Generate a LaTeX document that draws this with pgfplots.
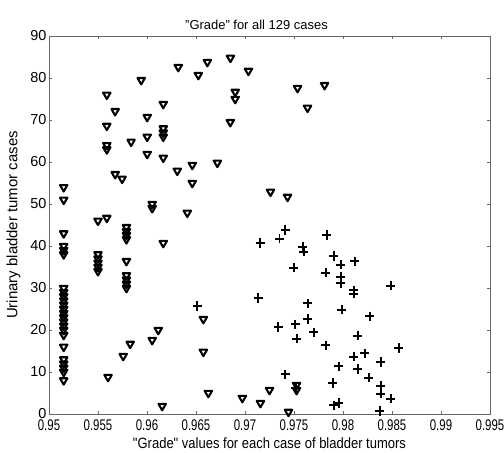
\documentclass[border=0pt]{standalone}
\usepackage{pgfplots}
\usepackage{graphicx}
\pgfplotsset{compat=1.18}
\usepackage{fontspec}
\setmainfont{Liberation Sans}
\newfontfamily\xlabfont{Liberation Sans}[FakeStretch=0.87]
\newcommand\sx[1]{\scalebox{0.74}[1]{#1}}
\begin{document}
\begin{tikzpicture}
\useasboundingbox (-49bp,-39bp) rectangle (455bp,414bp);
\begin{axis}[
  at={(0,0)}, anchor=south west,
  scale only axis, width=441bp, height=378bp,
  xmin=0.95, xmax=0.995, ymin=0, ymax=90,
  xtick={0.95,0.955,0.96,0.965,0.97,0.975,0.98,0.985,0.99,0.995},
  xticklabels={\sx{0.95},\sx{0.955},\sx{0.96},\sx{0.965},\sx{0.97},\sx{0.975},\sx{0.98},\sx{0.985},\sx{0.99},\sx{0.995}},
  ytick={0,10,...,90},
  /pgf/number format/assume math mode=true,
  tick align=inside,
  major tick length=3bp,
  tick style={black!60, line width=0.5pt},
  axis line style={black!60, line width=0.6pt},
  xticklabel style={font=\fontsize{15.5}{17}\selectfont, yshift=-2bp},
  yticklabel style={font=\fontsize{14.5}{17}\selectfont, xshift=1bp},
  xlabel={"Grade" values for each case of bladder tumors},
  ylabel={Urinary bladder tumor cases},
  xlabel style={font=\xlabfont\fontsize{15}{17}\selectfont, yshift=-0.5bp},
  ylabel style={font=\fontsize{15}{17}\selectfont, yshift=3bp},
  title={"Grade" for all 129 cases},
  title style={font=\fontsize{13}{15}\selectfont, xshift=-13bp, yshift=-3bp},
]
% triangles (downward)
\addplot[only marks, mark=triangle, mark size=4.3pt, black, line width=2.1pt, mark options={rotate=180, line join=round}] coordinates {
(0.9515,54) (0.9515,51) (0.9515,43) (0.9515,40) (0.9515,39) (0.9515,38)
(0.9515,30) (0.9515,29) (0.9515,28) (0.9515,27) (0.9515,26) (0.9515,25) (0.9515,24) (0.9515,23) (0.9515,22) (0.9515,21) (0.9515,20)
(0.9515,18.8) (0.9515,16) (0.9515,13) (0.9515,12) (0.9515,11) (0.9515,10) (0.9515,8)
(0.9550,46) (0.9550,38) (0.9550,37) (0.9550,36) (0.9550,35) (0.9550,34)
(0.9559,76) (0.9559,68.6) (0.9559,64) (0.9559,63) (0.9559,46.7)
(0.95675,72.1) (0.95675,57.1) (0.95746,56)
(0.9579,44.5) (0.9579,43.5) (0.9579,42.6) (0.9579,41.6) (0.9579,36.4) (0.9579,33) (0.9579,32) (0.9579,31) (0.9579,30)
(0.95838,64.8) (0.95941,79.5)
(0.96002,70.7) (0.96002,66) (0.96002,61.9)
(0.96166,73.8) (0.96166,68) (0.96166,67) (0.96166,66) (0.96166,61) (0.96166,40.7)
(0.96053,50) (0.96053,49) (0.96053,17.6) (0.96115,20)
(0.95828,16.7) (0.95757,13.8) (0.95603,8.8) (0.96155,1.9)
(0.96319,82.6) (0.96309,57.9) (0.96462,59.3) (0.96462,55) (0.96411,47.9)
(0.96616,83.8) (0.96524,80.7) (0.96851,84.8) (0.97035,81.7)
(0.9690,76.7) (0.9690,75) (0.9685,69.5) (0.96718,59.8)
(0.9726,52.9) (0.97434,51.7) (0.97536,77.6) (0.97812,78.3) (0.97638,72.9)
(0.96575,22.6) (0.96575,14.8) (0.96626,5) (0.96973,3.8) (0.97157,2.6) (0.9725,5.7)
(0.97526,6.9) (0.97526,5.7) (0.97444,0.5)
};
% pluses
\addplot[only marks, mark=+, mark size=4.6pt, black, line width=2pt] coordinates {
(0.96513,25.7) (0.97137,27.6) (0.97157,40.7) (0.97352,41.7) (0.97413,43.8)
(0.97587,39.8) (0.97597,38.6) (0.97495,34.8) (0.97832,42.6) (0.97904,37.6)
(0.97822,33.6) (0.97638,26.4) (0.97341,20.7) (0.97515,21.4) (0.97638,22.6)
(0.97526,17.9) (0.97700,19.5) (0.97822,16.4) (0.97413,9.5) (0.97520,6.2)
(0.97894,7.4) (0.97904,2.1) (0.97955,2.6) (0.97975,35.5) (0.98119,36.4)
(0.97975,32.6) (0.97975,31.2) (0.98108,29.5) (0.98108,28.6) (0.98487,30.5)
(0.97986,24.8) (0.98272,23.3) (0.98149,18.6) (0.98569,15.7) (0.98108,13.6)
(0.98221,14.5) (0.98384,12.4) (0.97955,11.4) (0.98149,10.7) (0.98262,8.6)
(0.98384,6.7) (0.98384,4.8) (0.98487,3.6) (0.98374,0.7)
};
\end{axis}
\end{tikzpicture}
\end{document}
